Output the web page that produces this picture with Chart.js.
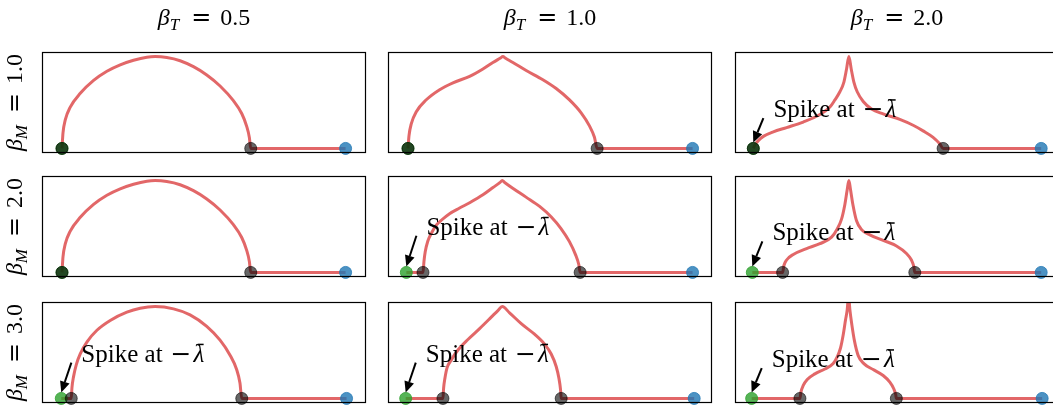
<!DOCTYPE html>
<html>
<head>
<meta charset="utf-8">
<script src="https://cdn.jsdelivr.net/npm/chart.js@4"></script>
<style>
html, body { margin: 0; padding: 0; background: #fff; width: 1053px; height: 410px; overflow: hidden; }
canvas { position: absolute; }
</style>
</head>
<body>
<script>
// column / row parameters
const betaT = ["0.5", "1.0", "2.0"];
const betaM = ["1.0", "2.0", "3.0"];

// density curves, x in panel units (0..100), y normalised to the panel peak
// row beta_M = 1.0
const curveX_11 = [6.17, 6.48, 7.18, 8.72, 11.81, 15.92, 20.03, 24.14, 28.25, 32.36, 34.92, 38.52, 42.63, 46.74, 50.85, 54.96, 59.07, 61.64, 63.18, 64.0, 64.42];
const curveY_11 = [0, 0.17, 0.31, 0.45, 0.60, 0.74, 0.84, 0.91, 0.96, 0.993, 1.0, 0.99, 0.955, 0.89, 0.80, 0.68, 0.52, 0.38, 0.24, 0.12, 0];
const curveX_12 = [6.17, 6.48, 7.20, 8.74, 11.82, 15.93, 20.05, 25.19, 29.30, 32.38, 34.6, 35.47, 36.3, 38.55, 42.66, 47.80, 51.91, 56.02, 59.61, 62.18, 63.72, 64.55];
const curveY_12 = [0, 0.138, 0.27, 0.40, 0.53, 0.64, 0.715, 0.784, 0.865, 0.936, 0.982, 1.0, 0.982, 0.936, 0.848, 0.748, 0.652, 0.528, 0.387, 0.245, 0.121, 0];
const curveX_13 = [5.65, 6.17, 7.19, 8.74, 11.82, 15.93, 21.07, 26.2, 29.29, 30.83, 32.37, 33.61, 34.43, 35.15, 35.87, 36.69, 37.72, 39.57, 42.14, 45.73, 50.87, 54.98, 58.06, 61.14, 63.20, 64.23];
const curveY_13 = [0, 0.039, 0.085, 0.131, 0.181, 0.227, 0.287, 0.369, 0.450, 0.528, 0.617, 0.723, 0.865, 1.0, 0.865, 0.723, 0.617, 0.511, 0.429, 0.376, 0.316, 0.252, 0.191, 0.121, 0.050, 0];
// row beta_M = 2.0
const curveX_21 = [6.17, 6.48, 7.18, 8.72, 11.81, 15.92, 20.03, 24.14, 28.25, 32.36, 34.92, 38.52, 42.63, 46.74, 50.85, 54.96, 59.07, 61.64, 63.18, 64.0, 64.42];
const curveY_21 = [0, 0.17, 0.31, 0.45, 0.60, 0.74, 0.84, 0.91, 0.96, 0.993, 1.0, 0.99, 0.955, 0.89, 0.80, 0.68, 0.52, 0.38, 0.24, 0.12, 0];
const curveX_22 = [10.8, 11.1, 11.5, 12.3, 13.36, 14.9, 16.45, 19.0, 22.1, 25.2, 29.3, 32.4, 34.6, 35.25, 36.0, 38.5, 42.6, 46.8, 50.4, 53.4, 56.0, 57.9, 58.9, 59.3];
const curveY_22 = [0, 0.119, 0.227, 0.342, 0.424, 0.514, 0.568, 0.640, 0.701, 0.759, 0.845, 0.924, 0.98, 1.0, 0.98, 0.917, 0.820, 0.719, 0.604, 0.478, 0.335, 0.191, 0.083, 0];
const curveX_23 = [14.69, 15.1, 15.93, 18.0, 22.09, 26.2, 29.8, 31.55, 32.88, 33.91, 34.63, 35.15, 35.66, 36.38, 37.51, 39.05, 41.62, 45.73, 49.84, 52.92, 54.46, 55.18, 55.49];
const curveY_23 = [0, 0.075, 0.135, 0.196, 0.260, 0.313, 0.384, 0.473, 0.580, 0.740, 0.900, 1.0, 0.900, 0.740, 0.562, 0.466, 0.409, 0.349, 0.288, 0.206, 0.135, 0.064, 0];
// row beta_M = 3.0
const curveX_31 = [9.03, 9.24, 9.75, 10.57, 11.8, 13.9, 16.95, 21.05, 26.2, 30.3, 34.9, 40.6, 45.7, 50.85, 54.96, 58.0, 60.1, 61.1, 61.65];
const curveY_31 = [0, 0.115, 0.240, 0.366, 0.484, 0.616, 0.742, 0.849, 0.939, 0.982, 1.0, 0.975, 0.910, 0.785, 0.634, 0.473, 0.312, 0.168, 0];
const curveX_32 = [16.96, 17.17, 17.58, 18.2, 19.54, 21.59, 24.67, 28.27, 31.87, 33.92, 35.26, 37.52, 41.12, 45.23, 48.32, 50.37, 51.91, 52.74, 53.25, 53.45];
const curveY_32 = [0, 0.115, 0.222, 0.330, 0.419, 0.527, 0.642, 0.760, 0.885, 0.957, 1.0, 0.932, 0.814, 0.699, 0.591, 0.484, 0.348, 0.222, 0.097, 0];
const curveX_33 = [20.04, 20.35, 21.07, 22.3, 24.66, 27.74, 30.31, 31.55, 32.57, 33.4, 34.12, 34.63, 35.05, 35.46, 36.07, 36.9, 38.03, 39.77, 42.65, 45.73, 47.79, 49.0, 49.6, 49.8];
const curveY_33 = [0, 0.069, 0.141, 0.206, 0.267, 0.321, 0.379, 0.451, 0.549, 0.693, 0.856, 0.964, 1.12, 0.964, 0.801, 0.621, 0.466, 0.379, 0.314, 0.249, 0.177, 0.105, 0.043, 0];

// markers, row-major (11, 12, 13, 21, ...)
const spikeX = [6.17, 6.17, 5.65, 6.17, 5.66, 5.34, 5.95, 5.46, 5.14];
const blueX = [93.7, 94.0, 94.5, 93.7, 94.0, 94.5, 94.0, 94.5, 94.8];
const labelY = [null, null, 0.34, null, 0.41, 0.35, 0.40, 0.40, 0.34];

const curvesX = [curveX_11, curveX_12, curveX_13, curveX_21, curveX_22, curveX_23, curveX_31, curveX_32, curveX_33];
const curvesY = [curveY_11, curveY_12, curveY_13, curveY_21, curveY_22, curveY_23, curveY_31, curveY_32, curveY_33];

// panel grid
const colLeft = [42, 388, 735];
const rowTop = [52, 176, 302];
const PW = 324, PH = 102;

const lineColor = "rgba(214,39,40,0.7)";
const green = "rgba(44,160,44,0.8)";
const gray = "rgba(0,0,0,0.6)";
const blue = "rgba(31,119,180,0.8)";

const serif = '"Liberation Serif", "Times New Roman", serif';

function drawPieces(ctx, pieces, x, y, center) {
    let total = 0;
    pieces.forEach(p => {
        ctx.font = p.font;
        p.w = ctx.measureText(p.t).width;
        total += (p.gap || 0) + p.w;
    });
    let cx = center ? x - total / 2 : x;
    pieces.forEach(p => {
        cx += p.gap || 0;
        p.x = cx;
        ctx.font = p.font;
        ctx.fillText(p.t, cx, y + (p.dy || 0));
        cx += p.w;
    });
    return pieces;
}

function mathLabel(sym, sub, val) {
    return [
        { t: sym, font: "italic 24px " + serif },
        { t: sub, font: "italic 17px " + serif, dy: 5 },
        { t: "=", font: '24px "DejaVu Serif"', gap: 12 },
        { t: val, font: "24px " + serif, gap: 9 }
    ];
}

function decor(r, c, i) {
    return {
        id: "decor" + i,
        afterDatasetsDraw(chart) {
            const ctx = chart.ctx, a = chart.chartArea;
            ctx.save();
            ctx.strokeStyle = "#000";
            ctx.lineWidth = 1.2;
            ctx.strokeRect(a.left + 0.5, a.top + 0.5, a.right - a.left - 1, a.bottom - a.top - 1);
            ctx.fillStyle = "#000";
            ctx.textBaseline = "alphabetic";

            if (r === 0) {
                drawPieces(ctx, mathLabel("β", "T", betaT[c]), (a.left + a.right) / 2, 25, true);
            }
            if (c === 0) {
                ctx.save();
                ctx.translate(22, (a.top + a.bottom) / 2);
                ctx.rotate(-Math.PI / 2);
                drawPieces(ctx, mathLabel("β", "M", betaM[r]), 0, 0, true);
                ctx.restore();
            }

            if (labelY[i] !== null) {
                const xs = chart.scales.x, ys = chart.scales.y;
                const tx = xs.getPixelForValue(spikeX[i] + 6.2), ty = ys.getPixelForValue(labelY[i]);
                const gx = xs.getPixelForValue(spikeX[i]), gy = ys.getPixelForValue(0);
                const p = drawPieces(ctx, [
                    { t: "Spike at", font: "25px " + serif },
                    { t: "−", font: '25px "DejaVu Serif"', gap: 8 },
                    { t: "λ", font: "italic 25px " + serif, gap: 2 }
                ], tx, ty, false);
                const lam = p[2];
                ctx.fillRect(lam.x + lam.w * 0.38, ty - 18, lam.w * 0.55, 1.5);

                // arrow
                const ax = tx - 10, ay = ty + 1, bx = gx, by = gy - 6;
                const ang = Math.atan2(by - ay, bx - ax), hl = 11, hw = 5;
                const hx = bx - hl * Math.cos(ang), hy = by - hl * Math.sin(ang);
                ctx.lineWidth = 2;
                ctx.beginPath();
                ctx.moveTo(ax, ay);
                ctx.lineTo(hx, hy);
                ctx.stroke();
                ctx.beginPath();
                ctx.moveTo(bx, by);
                ctx.lineTo(hx + hw * Math.sin(ang), hy - hw * Math.cos(ang));
                ctx.lineTo(hx - hw * Math.sin(ang), hy + hw * Math.cos(ang));
                ctx.closePath();
                ctx.fill();
            }
            ctx.restore();
        }
    };
}

function dots(points, color, order) {
    return {
        data: points, showLine: false, order: order, clip: false,
        pointRadius: 6, pointBorderWidth: 1,
        pointBackgroundColor: color, pointBorderColor: color
    };
}

for (let r = 0; r < 3; r++) {
    for (let c = 0; c < 3; c++) {
        const i = r * 3 + c;
        const padL = c === 0 ? colLeft[0] : 10;
        const padT = r === 0 ? rowTop[0] : 10;
        const cv = document.createElement("canvas");
        cv.width = PW + padL + 10;
        cv.height = PH + padT + 6;
        cv.style.left = (colLeft[c] - padL) + "px";
        cv.style.top = (rowTop[r] - padT) + "px";
        document.body.appendChild(cv);

        const xs = curvesX[i], ys = curvesY[i];
        let linePts = xs.map((v, k) => ({ x: v, y: ys[k] }));
        if (spikeX[i] < xs[0]) linePts.unshift({ x: spikeX[i], y: 0 });
        linePts.push({ x: blueX[i], y: 0 });

        new Chart(cv, {
            type: "line",
            data: {
                datasets: [
                    { data: linePts, borderColor: lineColor, borderWidth: 3, pointRadius: 0,
                      cubicInterpolationMode: "monotone", fill: false, order: 4, clip: 0 },
                    dots([{ x: spikeX[i], y: 0 }], green, 3),
                    dots([{ x: xs[0], y: 0 }, { x: xs[xs.length - 1], y: 0 }], gray, 2),
                    dots([{ x: blueX[i], y: 0 }], blue, 1)
                ]
            },
            options: {
                responsive: false,
                animation: false,
                events: [],
                layout: { padding: { left: padL, top: padT, right: 10, bottom: 6 } },
                scales: {
                    x: { type: "linear", min: 0, max: 100, display: false },
                    y: { min: -0.05, max: 1.05, display: false }
                },
                plugins: { legend: { display: false }, tooltip: { enabled: false } }
            },
            plugins: [decor(r, c, i)]
        });
    }
}
</script>
</body>
</html>
